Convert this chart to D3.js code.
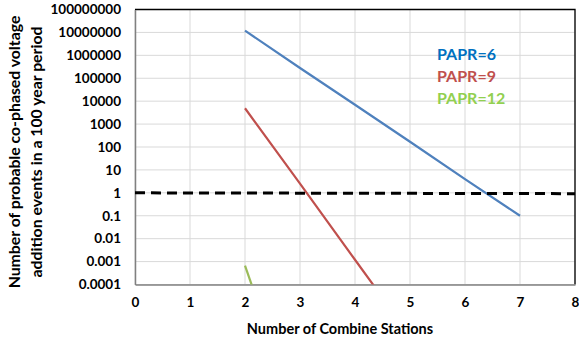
<!DOCTYPE html>
<meta charset="utf-8">
<script src="https://d3js.org/d3.v7.min.js"></script>
<style>
  body { margin: 0; background: #fff; }
  text { font-family: Lato, "Liberation Sans", sans-serif; font-weight: bold; }
</style>
<div id="my_dataviz"></div>
<script>
// data
var stations = [2, 3, 4, 5, 6, 7];
var papr6 = [12000000, 280000, 7000, 170, 4, 0.1];
var papr9 = [4900, 2.5, 0.0012, 6e-7];
var papr12 = [0.00067, 8e-11];
var thresholdX = [0, 8];
var thresholdY = [1, 0.92];
var xTicks = [0, 1, 2, 3, 4, 5, 6, 7, 8];
var yTicks = [1e-4, 1e-3, 1e-2, 1e-1, 1, 10, 100, 1e3, 1e4, 1e5, 1e6, 1e7, 1e8];
var yTickLabels = ["0.0001", "0.001", "0.01", "0.1", "1", "10", "100", "1000",
                   "10000", "100000", "1000000", "10000000", "100000000"];
var legendNames = ["PAPR=6", "PAPR=9", "PAPR=12"];

var W = 579, H = 343;
var margin = {top: 9.5, right: 4, bottom: 58.5, left: 135};
var width = W - margin.left - margin.right,
    height = H - margin.top - margin.bottom;

var svg = d3.select("#my_dataviz")
  .append("svg")
    .attr("width", W)
    .attr("height", H);

var g = svg.append("g")
    .attr("transform", "translate(" + margin.left + "," + margin.top + ")");

var x = d3.scaleLinear().domain([0, 8]).range([0, width]);
var y = d3.scaleLog().domain([1e-4, 1e8]).range([height, 0]);

// gridlines
g.append("g").selectAll("line")
  .data(xTicks)
  .enter().append("line")
    .attr("x1", function(d) { return x(d); })
    .attr("x2", function(d) { return x(d); })
    .attr("y1", 0).attr("y2", height)
    .attr("stroke", "#d9d9d9").attr("stroke-width", 1);
g.append("g").selectAll("line")
  .data(yTicks)
  .enter().append("line")
    .attr("x1", 0).attr("x2", width)
    .attr("y1", function(d) { return y(d); })
    .attr("y2", function(d) { return y(d); })
    .attr("stroke", "#d9d9d9").attr("stroke-width", 1);

// border top/right
g.append("path")
  .attr("d", "M0,0H" + width + "V" + height)
  .attr("fill", "none").attr("stroke", "#000").attr("stroke-width", 1.3);

// axes
var xAxis = g.append("g")
  .attr("transform", "translate(0," + height + ")")
  .call(d3.axisBottom(x).tickValues(xTicks).tickSize(0).tickPadding(13));
var yAxis = g.append("g")
  .call(d3.axisLeft(y).tickValues(yTicks).tickSize(0).tickPadding(14)
    .tickFormat(function(d, i) { return yTickLabels[i]; }));
[xAxis, yAxis].forEach(function(a) {
  a.select(".domain").attr("stroke", "#808080").attr("stroke-width", 1.5);
  a.selectAll("text").attr("font-size", 13.5).attr("fill", "#000")
    .attr("font-family", "Lato, sans-serif").attr("font-weight", "bold");
});

// clip
g.append("clipPath").attr("id", "clip")
  .append("rect").attr("width", width).attr("height", height);

var line = d3.line()
  .x(function(d) { return x(d[0]); })
  .y(function(d) { return y(d[1]); });

var series = [
  {vals: papr6, color: "#4F81BD"},
  {vals: papr9, color: "#C0504D"},
  {vals: papr12, color: "#9BBB59"}
];
series.forEach(function(s) {
  g.append("path")
    .datum(s.vals.map(function(v, i) { return [stations[i], v]; }))
    .attr("clip-path", "url(#clip)")
    .attr("d", line)
    .attr("fill", "none")
    .attr("stroke", s.color)
    .attr("stroke-width", 2.2);
});

// threshold line
g.append("path")
  .datum(thresholdX.map(function(v, i) { return [v, thresholdY[i]]; }))
  .attr("d", line)
  .attr("fill", "none")
  .attr("stroke", "#000")
  .attr("stroke-width", 3)
  .attr("stroke-dasharray", "10,6");

// legend text
var legendColors = ["#0070C0", "#C0504D", "#92D050"];
svg.append("g").selectAll("text")
  .data(legendNames)
  .enter().append("text")
    .attr("x", 437)
    .attr("y", function(d, i) { return 60 + i * 22; })
    .attr("font-size", 16)
    .attr("fill", function(d, i) { return legendColors[i]; })
    .text(function(d) { return d; });

// axis titles
svg.append("text")
  .attr("x", margin.left + width / 2 - 15)
  .attr("y", 334)
  .attr("text-anchor", "middle")
  .attr("font-size", 14.5)
  .text("Number of Combine Stations");

var yt = svg.append("text")
  .attr("transform", "translate(0,152) rotate(-90)")
  .attr("text-anchor", "middle")
  .attr("font-size", 15.8);
yt.append("tspan").attr("x", 0).attr("y", 20).text("Number of probable co-phased voltage");
yt.append("tspan").attr("x", 0).attr("y", 42).text("addition events in a 100 year period");
</script>
